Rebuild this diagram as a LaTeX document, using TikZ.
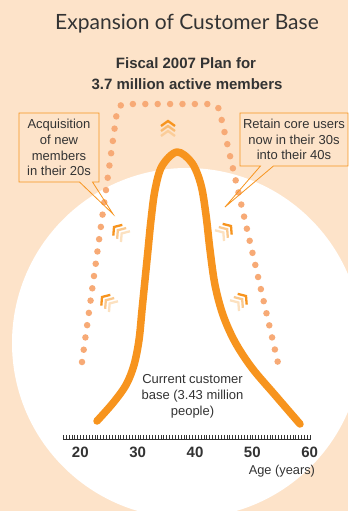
\documentclass[tikz,border=0pt]{standalone}
\usepackage{fontspec}
\setmainfont{Liberation Sans}
\newfontfamily\titlefont{Lato}
\usetikzlibrary{shapes.callouts}
\definecolor{peach}{RGB}{253,227,201}
\definecolor{brand}{RGB}{247,148,30}
\definecolor{dotc}{RGB}{247,170,118}
\definecolor{ink}{RGB}{51,51,51}
\begin{document}
\begin{tikzpicture}[x=1pt,y=-1pt,
  note/.style={rectangle callout, draw=brand, line width=0.8pt, align=center,
    font=\fontsize{13}{15.8}\selectfont, text=ink, inner sep=0pt,
    callout pointer width=13pt},
  small/.style={font=\fontsize{13}{16}\selectfont, text=ink, align=center},
  axisnum/.style={font=\bfseries\fontsize{15}{18}\selectfont, text=ink, anchor=base},
  chevs/.pic={
    \foreach \k/\o in {2/0.28,1/0.5,0/1}
      \draw[brand, line width=2.3pt, opacity=\o, line join=miter]
        (-5-5*\k,7) -- (-5*\k,0) -- (-5-5*\k,-7);
  }]
\useasboundingbox (0,0) rectangle (348,511);
% background and the white disc
\fill[peach] (0,0) rectangle (348,511);
\begin{scope}
  \clip (0,0) rectangle (348,511);
  \fill[white] (187,343) circle[radius=175];
\end{scope}

% headings
\node[anchor=base, font=\titlefont\fontsize{21}{25}\selectfont, text=ink] (title) at (187,30) {Expansion of Customer Base};
\node[anchor=base, font=\bfseries\fontsize{15}{18}\selectfont, text=ink] (plan1) at (186,68) {Fiscal 2007 Plan for};
\node[anchor=base, font=\bfseries\fontsize{15}{18}\selectfont, text=ink] (plan2) at (187,89) {3.7 million active members};

% planned (dotted) outline
\draw[dotc, line width=6.5pt, line cap=round, dash pattern=on 0pt off 12.4pt, rounded corners=7pt]
  (82,362) -- (118,104) -- (218,104) -- (278,363);

% current customer distribution
\draw[brand, line width=7.5pt, line cap=round, line join=round]
  plot[smooth, tension=0.55] coordinates {
    (97,421) (113,403) (126,385) (134,365) (139,340) (142,310) (145,280)
    (148,250) (151,220) (155,190) (162,166) (177,152) (192,163) (201,185)
    (206,215) (210,250) (215,285) (223,315) (235,342) (252,368) (275,395) (300,424)};

% growth chevrons
\pic[rotate=90]  at (168,121) {chevs};
\pic[rotate=140] at (114,227) {chevs};
\pic[rotate=140] at (102,297) {chevs};
\pic[rotate=40]  at (231,226) {chevs};
\pic[rotate=40]  at (246,296) {chevs};

% callouts
\coordinate (tipA) at (113,214);
\coordinate (tipB) at (225,207);
\node[note, minimum width=80pt, minimum height=69pt, callout absolute pointer=(tipA)]
  (acq) at (59,147.5) {Acquisition\\of new\\members\\in their 20s};
\node[note, minimum width=108pt, minimum height=53pt, callout absolute pointer=(tipB)]
  (ret) at (294,139.5) {Retain core users\\now in their 30s\\into their 40s};

\node[small] (base) at (192.5,396) {Current customer\\base (3.43 million\\people)};

% age axis
\coordinate (ax0) at (63.2,439);
\coordinate (ax1) at (311,439);
\draw[ink, line width=0.9pt] (ax0) -- (ax1);
\foreach \i in {0,...,86}
  \draw[ink, line width=0.45pt] ([xshift=\i*2.87pt]ax0) -- ++(0,-3.6);
\node[axisnum] (n20) at (80.3,457.5) {20};
\node[axisnum] (n30) at (137.7,457.5) {30};
\node[axisnum] (n40) at (195,457.5) {40};
\node[axisnum] (n50) at (252.3,457.5) {50};
\node[axisnum] (n60) at (309.7,457.5) {60};
\node[anchor=base east, font=\fontsize{12.8}{15}\selectfont, text=ink] (age) at (318.5,474.5) {Age (years)};
\end{tikzpicture}
\end{document}
